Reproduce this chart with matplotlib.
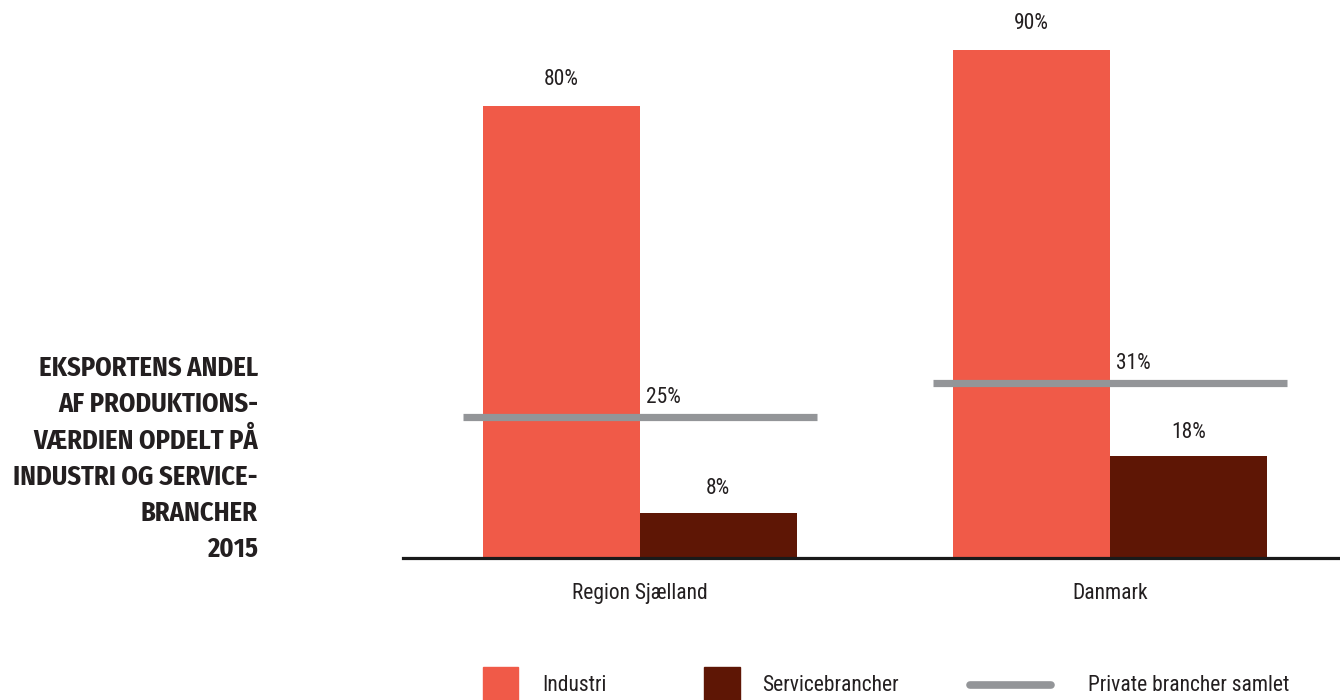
import matplotlib
matplotlib.use("Agg")
import matplotlib.pyplot as plt
from matplotlib.patches import Rectangle
from matplotlib.lines import Line2D
import numpy as np

categories = ["Region Sjælland", "Danmark"]
industri = [80, 90]
service = [8, 18]
samlet = [25, 31]
series_names = ["Industri", "Servicebrancher", "Private brancher samlet"]
title_lines = ["EKSPORTENS ANDEL", "AF PRODUKTIONS-", "VÆRDIEN OPDELT PÅ",
               "INDUSTRI OG SERVICE-", "BRANCHER", "2015"]

C_IND = "#F05A48"
C_SER = "#5E1605"
C_LINE = "#939598"
C_TXT = "#231F20"
BODY = ["Roboto Condensed", "DejaVu Sans"]
TITLE = ["Fira Sans Condensed", "DejaVu Sans"]
plt.rcParams["font.family"] = BODY
FS = 15.5
PX = 0.72  # points per pixel at 100 dpi

fig = plt.figure(figsize=(13.4, 7), dpi=100)
ax = fig.add_axes([403/1340, 142/700, 1 - 403/1340, 558/700])

x = np.arange(len(categories)) * 3.0
w = 1.0
ax.bar(x - w/2, industri, width=w, color=C_IND)
ax.bar(x + w/2, service, width=w, color=C_SER)
for xi, v in zip(x, samlet):
    ax.plot([xi - w - 0.13, xi + w + 0.13], [v, v], color=C_LINE, lw=5.2, solid_capstyle="butt")
    ax.annotate(f"{v}%", (xi, v), xytext=(6*PX, 14*PX), textcoords="offset points",
                ha="left", va="baseline", fontsize=FS, color=C_TXT)
for xi, v in zip(x, industri):
    ax.annotate(f"{v}%", (xi - w/2, v), xytext=(0, 21*PX), textcoords="offset points",
                ha="center", va="baseline", fontsize=FS, color=C_TXT)
for xi, v in zip(x, service):
    ax.annotate(f"{v}%", (xi + w/2, v), xytext=(0, 18.5*PX), textcoords="offset points",
                ha="center", va="baseline", fontsize=FS, color=C_TXT)

ax.set_xlim(-1.51, 4.465)
ax.set_ylim(0, 98.8)
for s in ["top", "right", "left"]:
    ax.spines[s].set_visible(False)
ax.spines["bottom"].set_linewidth(2.3)
ax.spines["bottom"].set_color("#1a1a1a")
ax.set_yticks([])
ax.set_xticks(x)
ax.set_xticklabels(categories, fontsize=FS, color=C_TXT)
ax.tick_params(axis="x", length=0, pad=18)

# title
ys = [376, 412, 449, 485, 521, 557]
for t, yy in zip(title_lines, ys):
    fig.text(258/1340, 1 - yy/700, t, ha="right", va="baseline", fontsize=19,
             fontweight="bold", color=C_TXT, family=TITLE)

# legend
fig.patches.append(Rectangle((483/1340, 0), 35/1340, 33/700, transform=fig.transFigure,
                             color=C_IND))
fig.patches.append(Rectangle((704/1340, 0), 36/1340, 33/700, transform=fig.transFigure,
                             color=C_SER))
fig.lines.append(Line2D([970/1340, 1051/1340], [15/700, 15/700], transform=fig.transFigure,
                        color=C_LINE, lw=5.5, solid_capstyle="round"))
for t, xx in zip(series_names, [542, 762, 1088]):
    fig.text(xx/1340, 9/700, t, ha="left", va="baseline", fontsize=FS, color=C_TXT)

fig.savefig("out.png", dpi=100)
